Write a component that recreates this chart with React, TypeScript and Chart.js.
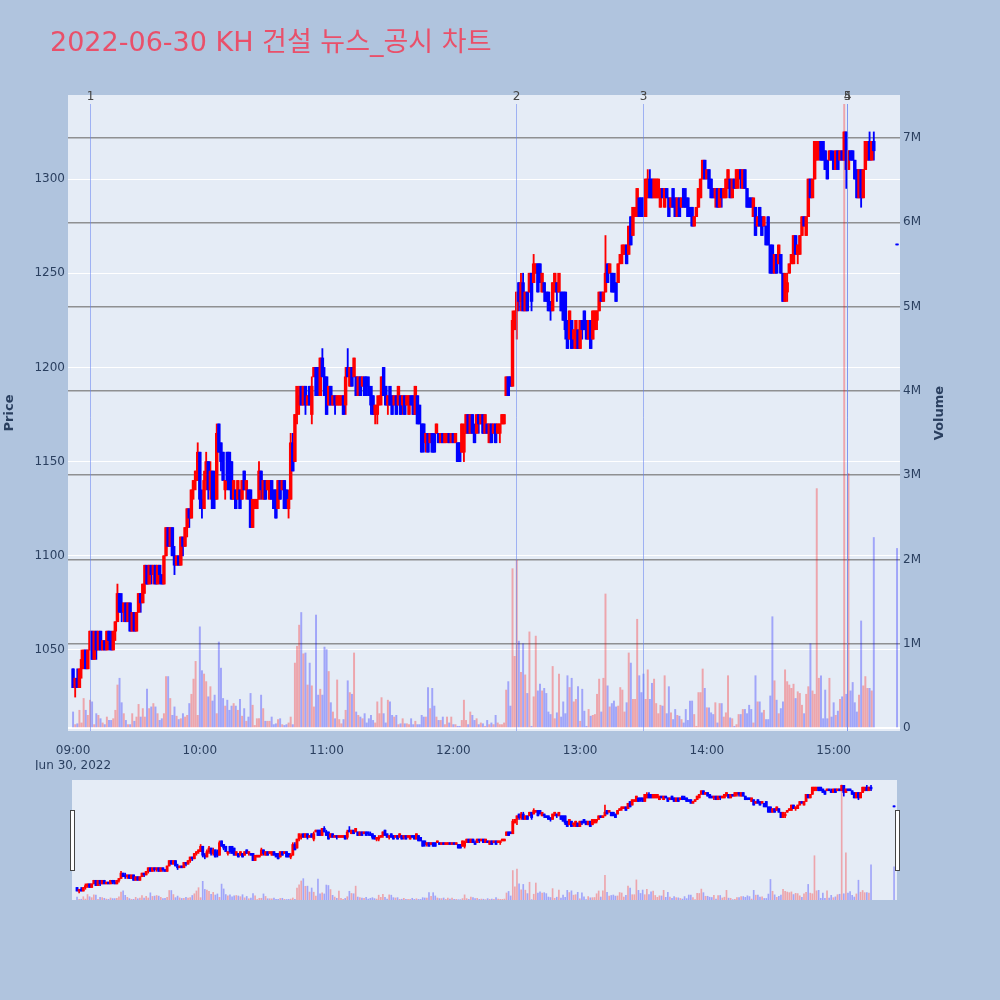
import React, { useEffect, useRef } from 'react';
import { Chart, registerables } from 'chart.js';

Chart.register(...registerables);

// ---------- data (one candle per minute from 09:00, index = minutes after 09:00) ----------
const opens = [
  1040,1030,1035,1030,1040,1045,1050,1040,1050,1060,
  1045,1060,1050,1060,1050,1055,1050,1060,1055,1050,
  1060,1065,1080,1075,1070,1075,1065,1075,1060,1070,
  1060,1070,1080,1075,1085,1095,1085,1095,1090,1095,
  1085,1095,1090,1085,1100,1115,1105,1115,1100,1095,
  1100,1095,1110,1105,1115,1125,1120,1135,1140,1140,
  1155,1130,1125,1140,1150,1135,1145,1140,1130,1170,
  1160,1155,1135,1155,1155,1150,1130,1135,1130,1135,
  1130,1145,1135,1135,1135,1115,1125,1125,1130,1145,
  1130,1140,1135,1130,1140,1135,1135,1125,1140,1135,
  1140,1135,1125,1130,1160,1150,1175,1180,1190,1180,
  1190,1180,1190,1175,1195,1200,1200,1185,1205,1195,
  1195,1180,1190,1180,1185,1180,1180,1180,1185,1180,
  1200,1190,1200,1195,1195,1185,1195,1190,1195,1195,
  1190,1190,1185,1175,1175,1180,1185,1200,1190,1180,
  1190,1185,1180,1185,1180,1185,1180,1185,1180,1175,
  1185,1185,1175,1185,1180,1170,1170,1160,1165,1160,
  1165,1165,1165,1165,1160,1165,1160,1160,1165,1160,
  1165,1160,1160,1160,1155,1155,1165,1175,1165,1175,
  1165,1165,1175,1170,1175,1165,1170,1160,1170,1165,
  1170,1165,1165,1170,1170,1185,1195,1195,1190,1220,
  1230,1245,1235,1245,1230,1240,1240,1250,1245,1250,
  1255,1255,1240,1245,1240,1240,1235,1230,1240,1245,
  1240,1240,1240,1240,1225,1215,1225,1215,1210,1220,
  1210,1225,1230,1225,1215,1225,1215,1220,1225,1230,
  1240,1235,1240,1255,1250,1250,1250,1245,1245,1255,
  1260,1260,1265,1260,1280,1270,1280,1280,1290,1290,
  1290,1280,1290,1300,1300,1290,1290,1290,1285,1295,
  1285,1295,1290,1285,1295,1290,1280,1290,1285,1295,
  1290,1290,1285,1285,1275,1280,1285,1290,1300,1310,
  1300,1305,1300,1295,1290,1295,1285,1295,1290,1290,
  1295,1300,1290,1300,1295,1300,1305,1295,1305,1295,
  1290,1290,1280,1285,1275,1285,1280,1275,1275,1280,
  1265,1265,1250,1260,1255,1260,1250,1235,1240,1250,
  1255,1255,1270,1260,1260,1270,1280,1270,1280,1300,
  1290,1300,1310,1315,1320,1320,1315,1310,1310,1315,
  1310,1305,1315,1310,1315,1310,1325,1305,1315,1315,
  1310,1305,1290,1305,1290,1305,1310,1320,1310,1320,
];
const highs = [
  1040,1035,1040,1040,1050,1050,1050,1050,1060,1060,
  1060,1060,1060,1060,1055,1055,1060,1060,1060,1060,
  1065,1085,1080,1080,1075,1075,1075,1075,1070,1070,
  1070,1080,1080,1085,1095,1095,1095,1095,1095,1095,
  1095,1095,1090,1100,1115,1115,1115,1115,1105,1100,
  1100,1110,1110,1115,1125,1125,1135,1140,1145,1160,
  1155,1135,1145,1155,1150,1150,1145,1145,1170,1170,
  1160,1155,1140,1155,1155,1150,1140,1135,1140,1135,
  1140,1145,1140,1135,1135,1130,1130,1130,1150,1145,
  1140,1140,1140,1140,1140,1135,1135,1140,1140,1140,
  1140,1135,1135,1165,1165,1175,1190,1190,1190,1190,
  1190,1185,1190,1195,1200,1200,1200,1205,1210,1200,
  1195,1190,1190,1185,1185,1185,1185,1185,1185,1200,
  1210,1200,1200,1205,1195,1195,1195,1195,1195,1195,
  1195,1190,1185,1180,1185,1185,1195,1200,1190,1185,
  1190,1185,1185,1185,1190,1185,1185,1185,1185,1185,
  1185,1185,1190,1185,1180,1170,1170,1165,1165,1165,
  1165,1165,1170,1165,1165,1165,1165,1165,1165,1165,
  1165,1165,1160,1160,1170,1170,1175,1175,1175,1175,
  1170,1175,1175,1175,1175,1175,1170,1170,1170,1170,
  1170,1170,1170,1175,1175,1195,1195,1195,1230,1230,
  1240,1245,1250,1250,1240,1240,1250,1250,1260,1255,
  1255,1255,1250,1245,1240,1240,1235,1245,1250,1245,
  1250,1240,1240,1240,1225,1230,1225,1220,1225,1220,
  1225,1225,1230,1225,1225,1225,1230,1230,1230,1240,
  1240,1240,1270,1255,1255,1250,1250,1245,1255,1260,
  1265,1265,1265,1275,1280,1285,1285,1295,1290,1290,
  1290,1300,1305,1305,1300,1300,1300,1300,1295,1295,
  1295,1295,1290,1290,1295,1290,1290,1290,1290,1295,
  1295,1290,1285,1285,1280,1285,1295,1300,1310,1310,
  1305,1305,1300,1295,1295,1295,1295,1295,1295,1300,
  1305,1300,1300,1300,1305,1305,1305,1305,1305,1295,
  1290,1290,1290,1285,1280,1285,1280,1280,1275,1280,
  1265,1265,1260,1260,1265,1260,1250,1250,1250,1255,
  1260,1270,1270,1265,1270,1280,1280,1280,1300,1300,
  1300,1320,1320,1320,1320,1320,1315,1310,1315,1315,
  1315,1315,1315,1315,1315,1325,1325,1315,1315,1315,
  1310,1305,1305,1305,1305,1320,1320,1325,1320,1325,
];
const lows = [
  1030,1025,1030,1030,1035,1040,1040,1040,1050,1045,
  1045,1045,1050,1050,1050,1050,1050,1050,1050,1050,
  1055,1065,1070,1065,1065,1065,1065,1060,1060,1060,
  1060,1070,1070,1075,1080,1085,1085,1085,1085,1085,
  1085,1085,1085,1085,1100,1105,1105,1100,1090,1095,
  1095,1095,1100,1105,1110,1115,1120,1130,1135,1140,
  1125,1120,1125,1135,1130,1130,1125,1125,1130,1155,
  1145,1140,1130,1135,1135,1130,1130,1125,1130,1125,
  1130,1135,1130,1130,1115,1115,1125,1125,1130,1130,
  1130,1130,1135,1130,1130,1125,1120,1125,1130,1135,
  1125,1125,1120,1130,1145,1150,1170,1175,1180,1180,
  1175,1180,1180,1170,1195,1185,1185,1185,1195,1185,
  1175,1180,1180,1180,1175,1180,1180,1180,1175,1175,
  1195,1190,1190,1195,1185,1185,1185,1190,1185,1185,
  1185,1175,1175,1170,1170,1180,1180,1185,1180,1175,
  1180,1175,1180,1175,1180,1175,1175,1175,1180,1175,
  1180,1175,1175,1170,1170,1155,1155,1155,1155,1160,
  1155,1155,1165,1160,1160,1160,1160,1160,1160,1160,
  1160,1160,1150,1150,1155,1150,1165,1165,1165,1165,
  1160,1165,1165,1170,1165,1165,1165,1160,1160,1165,
  1160,1165,1160,1170,1170,1185,1185,1190,1190,1220,
  1215,1230,1230,1230,1230,1230,1240,1230,1245,1250,
  1240,1245,1240,1235,1235,1230,1225,1230,1240,1235,
  1240,1230,1225,1215,1210,1215,1210,1210,1210,1210,
  1210,1215,1220,1215,1215,1210,1215,1220,1220,1230,
  1235,1235,1240,1245,1250,1240,1240,1235,1245,1255,
  1255,1260,1255,1260,1265,1270,1280,1280,1280,1280,
  1280,1280,1290,1290,1290,1290,1290,1290,1285,1290,
  1285,1290,1280,1285,1285,1280,1280,1280,1285,1285,
  1285,1280,1280,1275,1275,1280,1285,1290,1300,1300,
  1300,1295,1290,1290,1285,1285,1285,1285,1290,1290,
  1295,1290,1290,1295,1295,1295,1295,1295,1295,1285,
  1285,1285,1280,1270,1275,1275,1270,1275,1265,1265,
  1250,1250,1250,1250,1255,1250,1235,1235,1235,1250,
  1255,1255,1260,1255,1260,1270,1275,1270,1280,1290,
  1290,1300,1310,1310,1310,1310,1305,1300,1310,1310,
  1305,1305,1305,1310,1310,1310,1295,1305,1310,1310,
  1300,1290,1290,1285,1290,1305,1310,1310,1310,1310,
];
const closes = [
  1030,1035,1030,1040,1045,1050,1040,1050,1060,1045,
  1060,1050,1060,1050,1055,1050,1060,1055,1050,1060,
  1065,1080,1070,1070,1075,1065,1075,1060,1070,1060,
  1070,1080,1075,1085,1095,1085,1095,1090,1095,1085,
  1095,1090,1085,1100,1115,1105,1115,1100,1095,1100,
  1095,1110,1105,1115,1125,1120,1135,1140,1145,1155,
  1130,1125,1140,1150,1135,1145,1125,1130,1165,1155,
  1150,1140,1140,1140,1135,1130,1140,1125,1140,1125,
  1140,1135,1140,1130,1115,1130,1130,1130,1145,1135,
  1140,1130,1140,1140,1130,1125,1120,1140,1130,1140,
  1125,1125,1130,1160,1145,1175,1190,1185,1180,1190,
  1180,1185,1180,1190,1200,1185,1185,1205,1195,1185,
  1175,1190,1180,1185,1180,1185,1185,1185,1175,1195,
  1195,1200,1190,1205,1185,1195,1185,1195,1185,1190,
  1185,1180,1175,1180,1180,1185,1195,1185,1180,1185,
  1180,1175,1185,1175,1190,1175,1185,1175,1185,1185,
  1180,1175,1190,1170,1170,1155,1160,1165,1155,1165,
  1155,1155,1170,1160,1165,1160,1165,1165,1160,1165,
  1160,1165,1150,1150,1170,1165,1175,1165,1175,1165,
  1160,1175,1170,1175,1165,1175,1165,1170,1160,1170,
  1160,1170,1170,1175,1175,1195,1185,1190,1225,1230,
  1240,1235,1245,1230,1240,1230,1250,1235,1255,1255,
  1240,1245,1250,1240,1235,1230,1230,1245,1250,1240,
  1250,1230,1225,1220,1210,1230,1210,1220,1225,1210,
  1225,1220,1220,1215,1225,1210,1230,1230,1230,1240,
  1235,1240,1250,1245,1255,1240,1240,1235,1255,1260,
  1265,1265,1255,1275,1265,1285,1285,1295,1280,1285,
  1280,1300,1300,1290,1290,1300,1300,1300,1295,1290,
  1295,1290,1280,1290,1285,1280,1290,1280,1290,1285,
  1285,1280,1280,1275,1280,1285,1295,1300,1310,1300,
  1305,1295,1290,1290,1295,1285,1295,1290,1295,1300,
  1305,1290,1300,1295,1305,1305,1300,1305,1295,1285,
  1285,1285,1290,1270,1280,1275,1270,1280,1265,1265,
  1250,1250,1260,1250,1265,1250,1235,1250,1245,1255,
  1260,1270,1260,1265,1270,1280,1275,1280,1300,1290,
  1300,1320,1320,1320,1310,1310,1305,1300,1315,1310,
  1305,1315,1305,1315,1310,1325,1305,1315,1310,1310,
  1300,1290,1305,1290,1305,1320,1320,1310,1320,1315,
];
// volume in thousands of shares
const volumesK = [
  190,40,50,210,60,350,210,150,330,310,
  40,170,150,110,60,40,130,90,90,110,
  210,510,590,300,170,90,40,40,170,80,
  130,280,130,230,130,460,230,250,290,250,
  170,90,110,170,610,610,350,150,250,140,
  100,110,170,130,150,290,400,580,790,150,
  1200,680,640,550,370,490,320,390,170,1020,
  710,350,260,330,210,260,290,260,210,340,
  140,230,80,130,410,270,30,110,110,390,
  230,80,80,80,130,40,50,100,110,40,
  30,40,60,130,40,770,970,1220,1370,880,
  890,510,770,500,250,1340,390,460,390,960,
  930,670,300,190,110,570,100,50,100,210,
  560,420,400,890,190,150,130,110,170,60,
  110,150,90,60,310,170,360,170,60,330,
  310,150,130,150,40,50,110,50,50,40,
  110,40,80,40,40,150,130,130,480,230,
  470,260,130,90,90,130,40,130,60,130,
  40,40,20,20,90,330,90,40,190,150,
  90,110,40,60,50,20,90,40,60,40,
  150,60,40,40,60,450,550,260,1890,850,
  1990,1030,660,1000,630,410,1140,20,370,1090,
  440,520,440,470,410,190,160,730,110,180,
  640,130,310,170,620,480,590,310,340,490,
  80,460,200,20,220,140,150,160,400,580,
  190,590,1590,500,250,290,320,250,260,480,
  450,190,300,890,770,340,340,1290,620,420,
  640,340,690,340,530,580,290,170,270,260,
  620,170,490,180,100,220,150,140,100,60,
  220,90,320,320,160,20,420,420,700,470,
  240,240,180,160,300,60,290,290,130,180,
  620,120,110,20,40,160,160,220,220,170,
  270,220,60,620,310,310,180,210,100,100,
  380,1320,560,330,170,230,310,690,550,510,
  470,520,350,430,410,270,170,400,490,1000,
  440,400,2840,590,620,110,450,110,590,130,
  300,150,200,340,370,7400,400,3020,440,540,
  300,190,390,1270,500,610,470,470,440,2260,
];
// closing auction (15:30)
const auctionMinute = 390;
const auctionPrice = 1265;
const auctionVolumeK = 2130;

// news / disclosure markers (minutes after 09:00)
const newsMinutes = [7.8, 209.7, 269.8, 366.2, 366.5];
const newsLabels = ['1', '2', '3', '4', '5'];

// axes
const hourTicks = [0, 60, 120, 180, 240, 300, 360];
const hourLabels = ['09:00', '10:00', '11:00', '12:00', '13:00', '14:00', '15:00'];
const dateLabel = 'Jun 30, 2022';
const priceTicks = [1050, 1100, 1150, 1200, 1250, 1300];
const volumeTicksM = [0, 1, 2, 3, 4, 5, 6, 7];
const titleText = '2022-06-30 KH 건설 뉴스_공시 차트';

// ---------- styling ----------
const FONT = '"DejaVu Sans", "Noto Sans CJK KR", sans-serif';
const TICK_COLOR = '#2a3f5f';
const PAGE_BG = '#B0C4DE';
const PLOT_BG = '#E5ECF6';
const UP = '#FF0000';
const DOWN = '#0000FF';
const UP_VOL = 'rgba(255,0,0,0.3)';
const DOWN_VOL = 'rgba(0,0,255,0.3)';
const X_MIN = -2.4;
const X_MAX = 391.4;

function buildDatasets(bodyW: number, wickW: number, volW: number) {
  const O = [...opens, auctionPrice];
  const H = [...highs, auctionPrice];
  const L = [...lows, auctionPrice];
  const C = [...closes, auctionPrice];
  const V = [...volumesK, auctionVolumeK];
  const M = [...opens.map((_, i) => i), auctionMinute];
  const body: any[] = [];
  const wick: any[] = [];
  const vol: any[] = [];
  const colors: string[] = [];
  const volColors: string[] = [];
  for (let i = 0; i < O.length; i++) {
    const up = C[i] > O[i];
    body.push({ x: M[i], y: [O[i], C[i]] });
    wick.push({ x: M[i], y: [L[i], H[i]] });
    vol.push({ x: M[i], y: (V[i] ?? 0) / 1000 });
    colors.push(up ? UP : DOWN);
    volColors.push(up ? UP_VOL : DOWN_VOL);
  }
  return [
    { type: 'bar', data: body, backgroundColor: colors, borderWidth: 0, barThickness: bodyW, grouped: false, minBarLength: 1, yAxisID: 'y', order: 1 },
    { type: 'bar', data: wick, backgroundColor: colors, borderWidth: 0, barThickness: wickW, grouped: false, minBarLength: 1, yAxisID: 'y', order: 2 },
    { type: 'bar', data: vol, backgroundColor: volColors, borderWidth: 0, barThickness: volW, grouped: false, yAxisID: 'y1', order: 3 },
  ];
}

const bgPlugin = {
  id: 'plotBg',
  beforeDraw(chart: any) {
    const { ctx, chartArea } = chart;
    ctx.save();
    ctx.fillStyle = PLOT_BG;
    ctx.fillRect(chartArea.left, chartArea.top, chartArea.right - chartArea.left, chartArea.bottom - chartArea.top);
    ctx.restore();
  },
};

const mainDecorPlugin = {
  id: 'mainDecor',
  afterDatasetsDraw(chart: any) {
    const { ctx, chartArea, scales } = chart;
    ctx.save();
    newsMinutes.forEach((m, i) => {
      const x = Math.round(scales.x.getPixelForValue(m)) + 0.5;
      ctx.strokeStyle = 'rgba(100,130,240,0.55)';
      ctx.lineWidth = 1;
      ctx.beginPath();
      ctx.moveTo(x, chartArea.top + 9);
      ctx.lineTo(x, chartArea.bottom);
      ctx.stroke();
      ctx.fillStyle = '#444';
      ctx.font = `12px ${FONT}`;
      ctx.textAlign = 'center';
      ctx.textBaseline = 'middle';
      ctx.fillText(newsLabels[i], x, chartArea.top + 2);
    });
    ctx.restore();
  },
  afterDraw(chart: any) {
    const { ctx } = chart;
    ctx.save();
    // chart title
    ctx.fillStyle = '#E9506A';
    ctx.font = `27px ${FONT}`;
    ctx.textAlign = 'left';
    ctx.textBaseline = 'alphabetic';
    ctx.fillText(titleText, 50, 51);
    // axis titles
    ctx.fillStyle = TICK_COLOR;
    ctx.font = `bold 13px ${FONT}`;
    ctx.textAlign = 'center';
    ctx.textBaseline = 'middle';
    ctx.translate(10, 413);
    ctx.rotate(-Math.PI / 2);
    ctx.fillText('Price', 0, 0);
    ctx.restore();
    ctx.save();
    ctx.fillStyle = TICK_COLOR;
    ctx.font = `bold 13px ${FONT}`;
    ctx.textAlign = 'center';
    ctx.textBaseline = 'middle';
    ctx.translate(940, 413);
    ctx.rotate(-Math.PI / 2);
    ctx.fillText('Volume', 0, 0);
    ctx.restore();
  },
};

const sliderHandlePlugin = {
  id: 'sliderHandles',
  afterDraw(chart: any) {
    const { ctx, chartArea } = chart;
    ctx.save();
    const h = 60;
    const y = (chartArea.top + chartArea.bottom) / 2 - h / 2;
    [chartArea.left - 2, chartArea.right - 2].forEach((x) => {
      ctx.fillStyle = '#ffffff';
      ctx.fillRect(x + 0.5, y + 0.5, 4, h);
      ctx.strokeStyle = '#444';
      ctx.lineWidth = 1;
      ctx.strokeRect(x + 0.5, y + 0.5, 4, h);
    });
    ctx.restore();
  },
};

const tickFont = { family: FONT, size: 12 };

export default function App() {
  const mainRef = useRef<HTMLCanvasElement | null>(null);
  const sliderRef = useRef<HTMLCanvasElement | null>(null);

  useEffect(() => {
    if (!mainRef.current || !sliderRef.current) return;
    const main = new Chart(mainRef.current, {
      type: 'bar',
      data: { datasets: buildDatasets(2.8, 1.2, 1.3) as any },
      options: {
        animation: false,
        responsive: false,
        maintainAspectRatio: false,
        events: [],
        layout: { padding: { top: 95, left: 0, right: 0, bottom: 0 } },
        plugins: { legend: { display: false }, tooltip: { enabled: false } },
        scales: {
          x: {
            type: 'linear',
            min: X_MIN,
            max: X_MAX,
            offset: false,
            bounds: 'data',
            grid: { display: false, offset: false },
            border: { display: false },
            ticks: {
              autoSkip: false,
              maxRotation: 0,
              minRotation: 0,
              padding: 5,
              color: TICK_COLOR,
              font: tickFont,
              callback: (v: any) => {
                const idx = hourTicks.indexOf(Number(v));
                if (idx < 0) return '';
                return idx === 0 ? [hourLabels[idx], dateLabel] : hourLabels[idx];
              },
            },
            afterBuildTicks: (s: any) => { s.ticks = hourTicks.map((v) => ({ value: v })); },
            afterFit: (s: any) => { s.height = 39; },
          } as any,
          y: {
            type: 'linear',
            position: 'left',
            min: 1007,
            max: 1344.6,
            bounds: 'data',
            grid: { color: '#ffffff', lineWidth: 1, drawTicks: false },
            border: { display: false },
            ticks: { padding: 3, color: TICK_COLOR, font: tickFont, callback: (v: any) => String(v) },
            afterBuildTicks: (s: any) => { s.ticks = priceTicks.map((v) => ({ value: v })); },
            afterFit: (s: any) => { s.width = 68; },
          } as any,
          y1: {
            type: 'linear',
            position: 'right',
            min: -0.036,
            max: 7.51,
            bounds: 'data',
            grid: {
              drawTicks: false,
              color: (c: any) => (c.tick && c.tick.value === 0 ? '#ffffff' : 'rgba(128,128,128,0.85)'),
              lineWidth: (c: any) => (c.tick && c.tick.value === 0 ? 2 : 1.4),
            },
            border: { display: false },
            ticks: {
              padding: 3,
              color: TICK_COLOR,
              font: tickFont,
              callback: (v: any) => (Number(v) === 0 ? '0' : `${v}M`),
            },
            afterBuildTicks: (s: any) => { s.ticks = volumeTicksM.map((v) => ({ value: v })); },
            afterFit: (s: any) => { s.width = 100; },
          } as any,
        },
      },
      plugins: [bgPlugin, mainDecorPlugin],
    } as any);

    const slider = new Chart(sliderRef.current, {
      type: 'bar',
      data: { datasets: buildDatasets(2.2, 1, 1) as any },
      options: {
        animation: false,
        responsive: false,
        maintainAspectRatio: false,
        events: [],
        layout: { padding: { top: 10, left: 72, right: 103, bottom: 10 } },
        plugins: { legend: { display: false }, tooltip: { enabled: false } },
        scales: {
          x: { type: 'linear', display: false, min: X_MIN, max: X_MAX, offset: false, bounds: 'data' } as any,
          y: { type: 'linear', display: false, min: 1005, max: 1340, bounds: 'data' } as any,
          y1: { type: 'linear', display: false, min: 0, max: 7.7, bounds: 'data' } as any,
        },
      },
      plugins: [bgPlugin, sliderHandlePlugin],
    } as any);

    return () => {
      main.destroy();
      slider.destroy();
    };
  }, []);

  return (
    <div style={{ position: 'absolute', left: 0, top: 0, width: 1000, height: 1000, background: PAGE_BG, overflow: 'hidden' }}>
      <canvas ref={mainRef} width={1000} height={770} style={{ position: 'absolute', left: 0, top: 0, width: 1000, height: 770 }} />
      <canvas ref={sliderRef} width={1000} height={140} style={{ position: 'absolute', left: 0, top: 770, width: 1000, height: 140 }} />
    </div>
  );
}
